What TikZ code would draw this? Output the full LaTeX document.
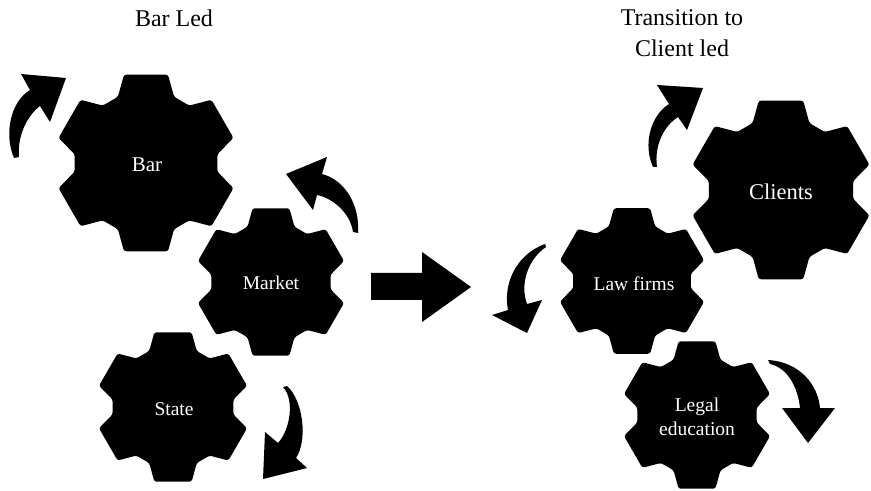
\documentclass[tikz,border=0pt]{standalone}
\usepackage{fontspec}
\setmainfont{Liberation Serif}

\begin{document}
\begin{tikzpicture}[x=0.5pt,y=-0.5pt,
  title/.style={inner sep=0pt,align=center,font=\fontsize{12}{15.5}\selectfont},
  gearlabel/.style={text=white,align=center,inner sep=0pt,font=\fontsize{9.75}{12}\selectfont},
  blk/.style={fill=black},
  pics/gear/.style={code={
    \fill[rounded corners=1.2pt] (67:0.79*#1) -- (76:#1) -- (104:#1) -- (113:0.79*#1)
      \foreach \a in {150,210,...,390} { -- (\a-23:0.79*#1) -- (\a-14:#1) -- (\a+14:#1) -- (\a+23:0.79*#1) } -- cycle;
  }}]
  \useasboundingbox (0,0) rectangle (871,491);

  % titles
  \node[title,anchor=north] (barled) at (174,9) {Bar Led};
  \node[title,anchor=north] (transition) at (682,9) {Transition to\\Client led};

  % gears
  \pic at (146,163) {gear=91};
  \pic at (271,282) {gear=76};
  \pic at (173,407) {gear=77};
  \pic at (781,190) {gear=92};
  \pic at (632,281) {gear=75};
  \pic at (697,415) {gear=76};

  \node[gearlabel,font=\fontsize{10.5}{12}\selectfont] (bar) at (147,165) {Bar};
  \node[gearlabel] (market) at (271,283) {Market};
  \node[gearlabel] (state) at (174,409) {State};
  \node[gearlabel,font=\fontsize{11.25}{13}\selectfont] (clients) at (781,192) {Clients};
  \node[gearlabel] (lawfirms) at (634,284) {Law firms};
  \node[gearlabel] (legaledu) at (697,417) {Legal\\education};

  % big arrow
  \fill[blk] (371,273) -- (422,273) -- (422,252) -- (471,287) -- (422,322) -- (422,300) -- (371,300) -- cycle;

  % turning arrows
  \fill[blk] (14,158) .. controls (4,135) and (10,102) .. (30,90) -- (21,74) -- (66,78) -- (50,122) -- (40,106)
    .. controls (28,115) and (17,135) .. (19,157) -- cycle;
  \fill[blk] (322,174) -- (327,157) -- (286,174) -- (313,210) -- (317,195)
    .. controls (332,198) and (350,212) .. (353,232) -- (358,233) .. controls (360,205) and (345,180) .. (322,174) -- cycle;
  \fill[blk] (287,386) .. controls (303,400) and (308,440) .. (296,458) -- (307,468) -- (263,479) -- (265,432) -- (278,443)
    .. controls (290,430) and (295,400) .. (283,387) -- cycle;
  \fill[blk] (545,244) .. controls (515,255) and (503,285) .. (508,310) -- (492,315) -- (527,333) -- (542,300) -- (527,304)
    .. controls (520,285) and (527,260) .. (546,247) -- cycle;
  \fill[blk] (653,167) .. controls (643,145) and (650,116) .. (669,104) -- (657,85) -- (703,88) -- (687,130) -- (678,117)
    .. controls (664,126) and (654,145) .. (657,167) -- cycle;
  \fill[blk] (768,360) .. controls (800,362) and (818,385) .. (820,408) -- (835,408) -- (808,443) -- (782,408) -- (800,408)
    .. controls (798,388) and (788,368) .. (770,364) -- cycle;
\end{tikzpicture}
\end{document}
